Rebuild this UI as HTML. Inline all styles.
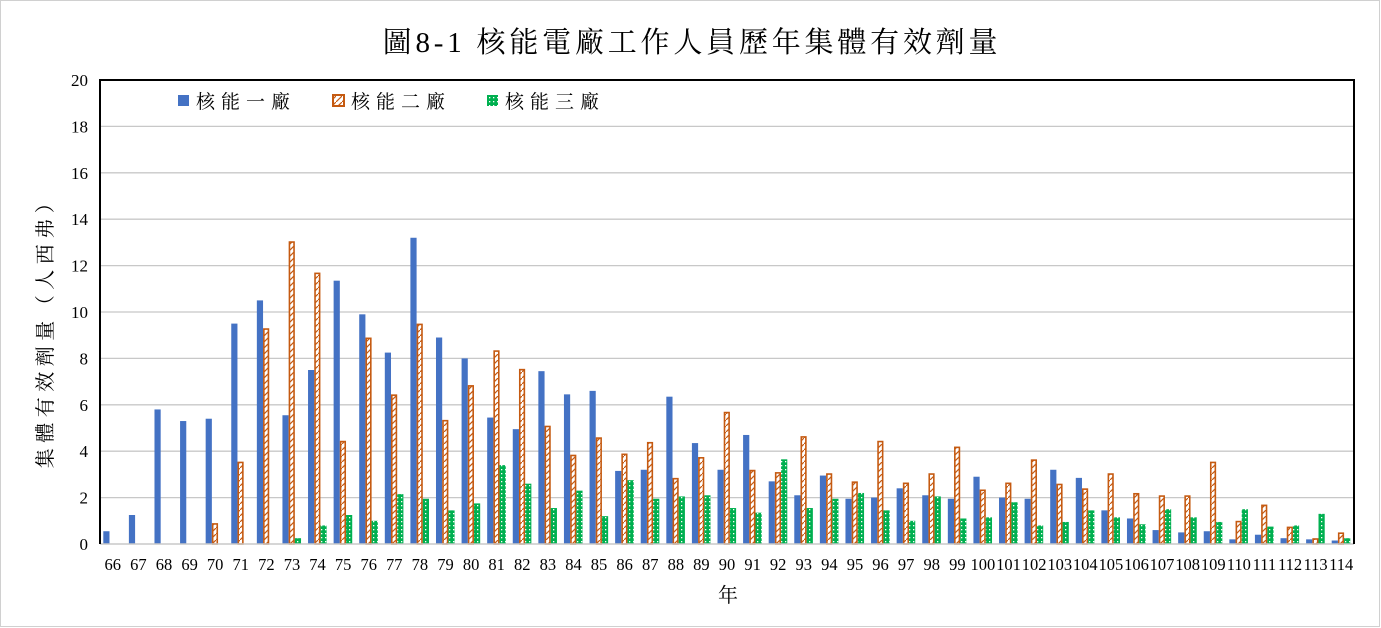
<!DOCTYPE html>
<html><head><meta charset="utf-8"><style>
body{margin:0;background:#fff;}
svg{display:block;font-family:"Liberation Serif","Noto Serif CJK SC","Noto Sans CJK TC",serif;}
</style></head><body>
<svg id="chart" width="1381" height="628" viewBox="0 0 1381 628">
<defs>
<pattern id="pOr" width="6" height="6" patternUnits="userSpaceOnUse"><rect width="6" height="6" fill="#fff"/><path d="M0,6 L6,0" stroke="#c55a11" stroke-width="1.2"/></pattern>
<pattern id="pGr" width="4" height="4" patternUnits="userSpaceOnUse"><rect width="4" height="4" fill="#00b050"/><rect x="1" y="1" width="1.3" height="1.3" fill="#fff"/></pattern>
</defs>
<rect x="0.5" y="0.5" width="1379" height="626" fill="#fff" stroke="#d0d0d0"/>
<text x="692" y="52" text-anchor="middle" font-size="29" letter-spacing="3.8" fill="#000">圖8-1 核能電廠工作人員歷年集體有效劑量</text>
<g id="grid"></g><g id="bars"></g><g id="axes"></g>
<text transform="translate(52,328) rotate(-90)" text-anchor="middle" font-size="20" letter-spacing="5.5">集體有效劑量（人西弗）</text>
<text x="728" y="602" text-anchor="middle" font-size="20">年</text>
<g>
<g><rect x="178" y="95" width="11" height="11" fill="#4472c4"/><text x="196" y="108" font-size="19" letter-spacing="6">核能一廠</text></g>
<g><rect x="333" y="95" width="11" height="11" fill="url(#pOr)" stroke="#c55a11" stroke-width="2"/><text x="351" y="108" font-size="19" letter-spacing="6">核能二廠</text></g>
<g><rect x="487" y="95" width="11" height="11" fill="url(#pGr)"/><text x="505" y="108" font-size="19" letter-spacing="6">核能三廠</text></g>
</g>
</svg>
<script>
const years=[66,67,68,69,70,71,72,73,74,75,76,77,78,79,80,81,82,83,84,85,86,87,88,89,90,91,92,93,94,95,96,97,98,99,100,101,102,103,104,105,106,107,108,109,110,111,112,113,114];
const plant1=[0.55,1.25,5.8,5.3,5.4,9.5,10.5,5.55,7.5,11.35,9.9,8.25,13.2,8.9,8.0,5.45,4.95,7.45,6.45,6.6,3.15,3.2,6.35,4.35,3.2,4.7,2.7,2.1,2.95,1.95,2.0,2.4,2.1,1.95,2.9,2.0,1.95,3.2,2.85,1.45,1.1,0.6,0.5,0.55,0.2,0.4,0.25,0.2,0.15];
const plant2=[0,0,0,0,0.9,3.55,9.3,13.05,11.7,4.45,8.9,6.45,9.5,5.35,6.85,8.35,7.55,5.1,3.85,4.6,3.9,4.4,2.85,3.75,5.7,3.2,3.1,4.65,3.05,2.7,4.45,2.65,3.05,4.2,2.35,2.65,3.65,2.6,2.4,3.05,2.2,2.1,2.1,3.55,1.0,1.7,0.75,0.25,0.5];
const plant3=[0,0,0,0,0,0,0,0.25,0.8,1.25,1.0,2.15,1.95,1.45,1.75,3.4,2.6,1.55,2.3,1.2,2.75,1.95,2.05,2.1,1.55,1.35,3.65,1.55,1.95,2.2,1.45,1.0,2.05,1.1,1.15,1.8,0.8,0.95,1.45,1.15,0.85,1.5,1.15,0.95,1.5,0.75,0.8,1.3,0.25];
const yTicks=[0,2,4,6,8,10,12,14,16,18,20];
const NS="http://www.w3.org/2000/svg";
const X0=100,X1=1354,Y0=544,Y1=80,YMAX=20;
const band=(X1-X0)/years.length;
const xc=i=>X0+band*(i+0.5);
const y=v=>Y0-(Y0-Y1)*v/YMAX;
function mk(tag,attrs,parent){const e=document.createElementNS(NS,tag);for(const k in attrs)e.setAttribute(k,attrs[k]);parent.appendChild(e);return e;}
const grid=document.getElementById('grid'),bars=document.getElementById('bars'),axes=document.getElementById('axes');
yTicks.forEach(t=>{
  if(t>0&&t<YMAX){const l=mk('line',{x1:X0,x2:X1,y1:y(t),y2:y(t),stroke:'#c8c8c8','stroke-width':1.3},grid);
  
  }
  const tx=mk('text',{x:88,y:y(t)+6,'text-anchor':'end','font-size':17},axes);tx.textContent=t;
  
  
});
const bl=mk('line',{x1:X0,x2:X1,y1:Y0,y2:Y0,stroke:'#c8c8c8','stroke-width':1.5},axes);


const fr=mk('path',{d:`M${X0},${Y0} V${Y1} H${X1} V${Y0}`,fill:'none',stroke:'#000','stroke-width':2},axes);


const series=[[plant1,'#4472c4','plant1'],[plant2,'url(#pOr)','plant2'],[plant3,'url(#pGr)','plant3']];
const bw=6.2;
years.forEach((yr,i)=>{
  series.forEach(([arr,fill,nm],s)=>{
    const v=arr[i]; if(!(v>0))return;
    const x=xc(i)-9.5+s*bw;
    const a={x:x,y:y(v),width:bw,height:Y0-y(v),fill:fill};
    if(s===1){a.stroke='#c55a11';a['stroke-width']=1.6;a.x=x+0.8;a.width=bw-1.6;a.y=y(v)+0.8;a.height=Y0-y(v)-0.8;}
    const r=mk('rect',a,bars);
    
    
  });
  const t=mk('text',{x:xc(i),y:570,'text-anchor':'middle','font-size':16.5},axes);t.textContent=yr;
  
  
});
</script>
</body></html>
